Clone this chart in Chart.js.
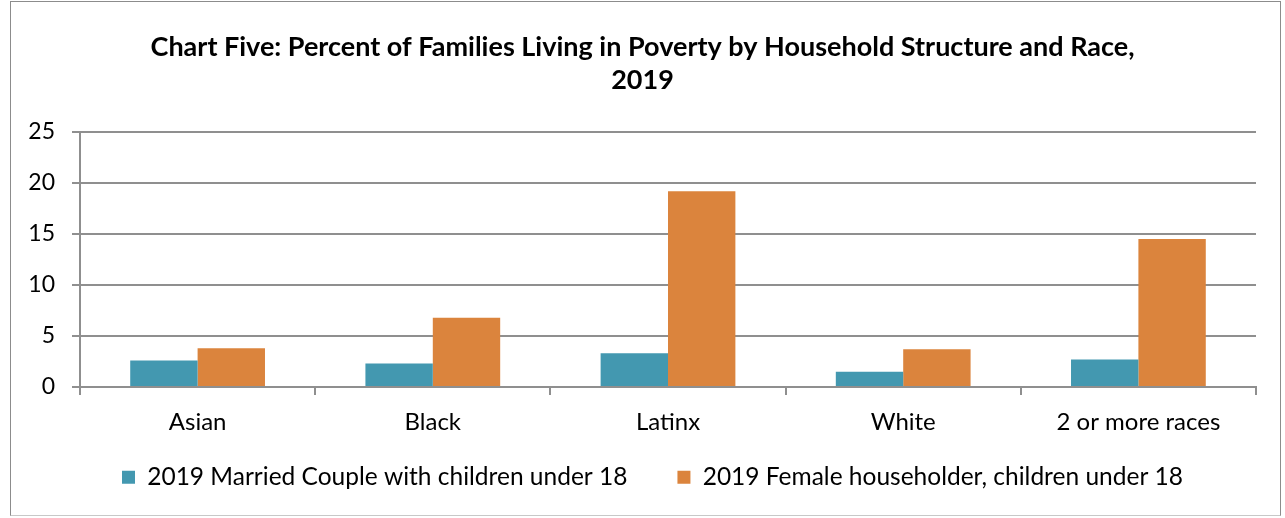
<!DOCTYPE html>
<html>
<head>
<meta charset="utf-8">
<script src="https://cdn.jsdelivr.net/npm/chart.js@4/dist/chart.umd.min.js"></script>
<style>
  body { margin: 0; background: #fff; }
  #wrap { position: relative; width: 1285px; height: 518px; }
  #frame { position: absolute; left: 10px; top: 1px; width: 1269px; height: 513px; border: 1.5px solid #8c8c8c; border-bottom-color: #c8c8c8; pointer-events: none; }
</style>
</head>
<body>
<div id="wrap">
  <canvas id="myChart" width="1285" height="518"></canvas>
  <div id="frame"></div>
</div>
<script>
const categories = ['Asian', 'Black', 'Latinx', 'White', '2 or more races']
const marriedValues = [2.6, 2.3, 3.3, 1.5, 2.7]
const femaleValues = [3.8, 6.8, 19.2, 3.7, 14.5]
const seriesNames = ['2019 Married Couple with children under 18', '2019 Female householder, children under 18']
const yTicks = [0, 5, 10, 15, 20, 25]
const titleLines = ['Chart Five: Percent of Families Living in Poverty by Household Structure and Race,', '2019']

const gridColor = '#8f8f8f'
Chart.defaults.font.family = 'Lato'
Chart.defaults.color = '#000'

// legend needs wide gaps between items but not the same tall padding,
// so fix its height and pull its top up a bit after layout
const legendPlace = {
    id: 'legendPlace',
    beforeLayout(chart) {
        const legend = chart.legend
        if (!legend || legend._patched) return
        const fit = legend.fit
        legend.fit = function() {
            fit.call(this)
            this.height = 71
        }
        legend._patched = true
    },
    afterLayout(chart) {
        const legend = chart.legend
        legend.top -= 32
        legend.left += 10
        legend.right += 10
    }
}

const ctx = document.getElementById('myChart').getContext('2d')
const chart = new Chart(ctx, {
    type: 'bar',
    data: {
        labels: categories,
        datasets: [{
            label: seriesNames[0],
            data: marriedValues,
            backgroundColor: '#4398b0'
        }, {
            label: seriesNames[1],
            data: femaleValues,
            backgroundColor: '#db843d'
        }]
    },
    options: {
        responsive: false,
        animation: false,
        layout: { padding: 0 },
        datasets: {
            bar: { categoryPercentage: 0.573, barPercentage: 1 }
        },
        plugins: {
            title: {
                display: true,
                text: titleLines,
                font: { size: 27, weight: 'bold', lineHeight: 33 / 27 },
                padding: { top: 30.5, bottom: 35.5 },
                color: '#000'
            },
            legend: {
                position: 'bottom',
                labels: {
                    boxWidth: 13,
                    boxHeight: 13,
                    padding: 50,
                    font: { size: 24.5 }
                }
            },
            tooltip: { enabled: false }
        },
        scales: {
            x: {
                grid: {
                    offset: true,
                    drawOnChartArea: false,
                    tickLength: 8,
                    color: gridColor,
                    lineWidth: 2
                },
                border: { color: gridColor, width: 2 },
                ticks: { font: { size: 24 }, padding: 13 },
                afterFit: (scale) => { scale.height = 60 }
            },
            y: {
                min: yTicks[0],
                max: yTicks[yTicks.length - 1],
                ticks: { stepSize: yTicks[1] - yTicks[0], font: { size: 23 }, padding: 17 },
                grid: { color: gridColor, lineWidth: 2, tickLength: 8 },
                border: { color: gridColor, width: 2 },
                afterFit: (scale) => { scale.width = 80 }
            },
            y2: {
                position: 'right',
                display: true,
                grid: { display: false },
                border: { display: false },
                ticks: { display: false },
                afterFit: (scale) => { scale.width = 29 }
            }
        }
    },
    plugins: [legendPlace]
})
</script>
</body>
</html>
